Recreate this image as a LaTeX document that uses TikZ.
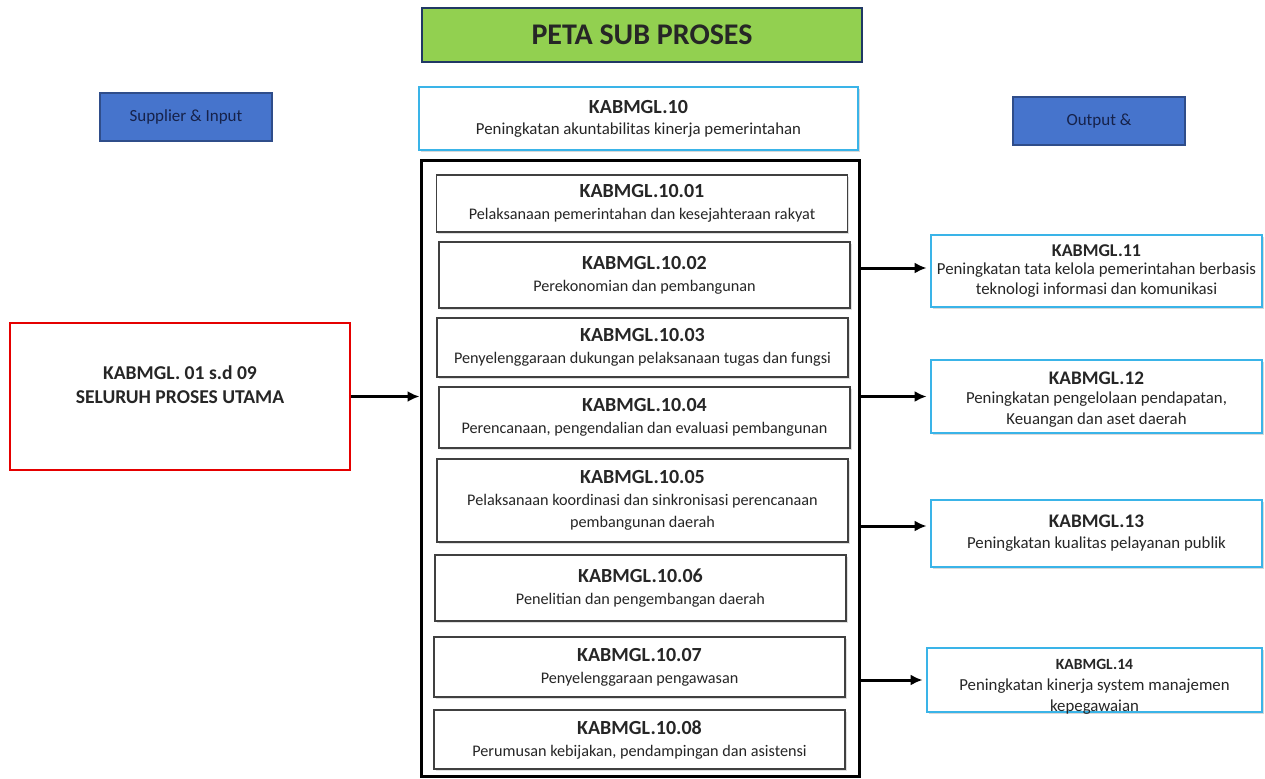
\documentclass[tikz,border=0pt]{standalone}
\usepackage{fontspec}
\setmainfont{Carlito}
\usetikzlibrary{arrows.meta,shadows}
\definecolor{titlegreen}{HTML}{92D050}
\definecolor{titleblue}{HTML}{203864}
\definecolor{skyblue}{HTML}{3AB4E8}
\definecolor{headblue}{HTML}{4674CC}
\definecolor{headborder}{HTML}{2F4D8A}
\definecolor{headtext}{HTML}{16224A}
\definecolor{txtgray}{HTML}{262626}
\newcommand{\kode}[1]{{\bfseries\fontsize{10}{12}\selectfont #1}}
\newcommand{\kodeout}[1]{{\bfseries\fontsize{9.6}{12}\selectfont #1}}
\tikzset{%
  >={Latex[width=5.5pt,length=6pt]},
           base/.style = {rectangle, draw=black, text centered, align=center,
                          inner sep=1pt, text=txtgray},
       titlebox/.style = {base, fill=titlegreen, draw=titleblue, line width=1.4pt,
                          minimum width=220pt, minimum height=27pt,
                          font=\bfseries\fontsize{15}{16}\selectfont},
        headbox/.style = {base, fill=headblue, draw=headborder, line width=1pt,
                          minimum width=86pt, minimum height=24pt, text=headtext,
                          font=\fontsize{8.5}{10}\selectfont},
         skybox/.style = {base, fill=white, draw=skyblue, line width=1.4pt,
                          font=\fontsize{8.4}{10.5}\selectfont,
                          drop shadow={shadow xshift=1pt, shadow yshift=-1pt, opacity=0.3}},
         subbox/.style = {base, fill=white, draw=black!75, line width=0.8pt,
                          minimum width=205.5pt, font=\fontsize{8.1}{11}\selectfont,
                          drop shadow={shadow xshift=0.8pt, shadow yshift=-0.8pt, opacity=0.25}},
       framebox/.style = {base, draw=black, line width=1.5pt,
                          minimum width=219pt, minimum height=308pt},
         redbox/.style = {base, draw=red!90!black, fill=white, line width=1.4pt,
                          minimum width=170pt, minimum height=73.5pt},
      arrowline/.style = {->, line width=1.5pt},
}
\begin{document}
\begin{tikzpicture}[x=0.5pt, y=-0.5pt]
\useasboundingbox (0,0) rectangle (1265,778);

  \node (title)    [titlebox]                 at (642,35)    {PETA SUB PROSES};
  \node (kab10)    [skybox, minimum width=219.5pt, minimum height=31.5pt]
                                              at (638.5,118.5)
        {\kode{KABMGL.10}\\Peningkatan akuntabilitas kinerja pemerintahan};
  \node (supplier) [headbox]                  at (186,117)   {Supplier \& Input};
  \node (output)   [headbox]                  at (1099,121)  {Output \&};

  % sub proses
  \node (frame)    [framebox]                 at (640,468)   {};
  \node (sub01)    [subbox, minimum height=28.5pt] at (642,203.5)
        {\kode{KABMGL.10.01}\\Pelaksanaan pemerintahan dan kesejahteraan rakyat};
  \node (sub02)    [subbox, minimum height=33pt]   at (644.5,275)
        {\kode{KABMGL.10.02}\\Perekonomian dan pembangunan};
  \node (sub03)    [subbox, minimum height=29.5pt] at (642.5,347.5)
        {\kode{KABMGL.10.03}\\Penyelenggaraan dukungan pelaksanaan tugas dan fungsi};
  \node (sub04)    [subbox, minimum height=30.5pt] at (644.5,417.5)
        {\kode{KABMGL.10.04}\\Perencanaan, pengendalian dan evaluasi pembangunan};
  \node (sub05)    [subbox, minimum height=41.5pt] at (642.5,500.5)
        {\kode{KABMGL.10.05}\\Pelaksanaan koordinasi dan sinkronisasi perencanaan\\pembangunan daerah};
  \node (sub06)    [subbox, minimum height=33pt]   at (640.5,588)
        {\kode{KABMGL.10.06}\\Penelitian dan pengembangan daerah};
  \node (sub07)    [subbox, minimum height=30pt]   at (639.5,667)
        {\kode{KABMGL.10.07}\\Penyelenggaraan pengawasan};
  \node (sub08)    [subbox, minimum height=29.5pt] at (639.5,739.5)
        {\kode{KABMGL.10.08}\\Perumusan kebijakan, pendampingan dan asistensi};

  % input
  \node (seluruh)     [redbox]                  at (180,396.5) {};
  \node (seluruhText) [align=center, text=txtgray, font=\bfseries\fontsize{9.8}{12}\selectfont]
                      at ([yshift=6pt]seluruh.center) {KABMGL. 01 s.d 09\\SELURUH PROSES UTAMA};

  % output
  \node (out11) [skybox, minimum width=165.5pt, minimum height=36pt,
                 font=\fontsize{8.4}{10}\selectfont]                   at (1096.5,271)
        {{\bfseries\fontsize{9}{12}\selectfont KABMGL.11}\\[-1pt]Peningkatan tata kelola pemerintahan berbasis\\teknologi informasi dan komunikasi};
  \node (out12) [skybox, minimum width=165.5pt, minimum height=36.5pt] at (1096.5,396.5) {};
  \node (out12Text) [align=center, text=txtgray, font=\fontsize{8.4}{10.5}\selectfont]
                at ([yshift=-1.5pt]out12.center)
        {\kodeout{KABMGL.12}\\[-1pt]Peningkatan pengelolaan pendapatan,\\Keuangan dan aset daerah};
  \node (out13) [skybox, minimum width=165.5pt, minimum height=33.5pt] at (1096.5,533.5)
        {\kodeout{KABMGL.13}\\Peningkatan kualitas pelayanan publik};
  \node (out14) [skybox, minimum width=167.5pt, minimum height=32pt]   at (1094.5,680) {};
  \node (out14Text) [align=center, text=txtgray, font=\fontsize{8.4}{10.5}\selectfont]
                at ([yshift=-3.5pt]out14.center)
        {{\bfseries\fontsize{7.8}{11}\selectfont KABMGL.14}\\Peningkatan kinerja system manajemen\\kepegawaian};

  \draw[arrowline] (seluruh.east) -- (frame.west |- seluruh.east);
  \draw[arrowline] (frame.east |- out11.west) ++(0,-3) -- ([yshift=1.5pt, xshift=-1.5pt]out11.west);
  \draw[arrowline] (frame.east |- out12.west) -- ([xshift=-1.5pt]out12.west);
  \draw[arrowline] (frame.east |- out13.west) ++(0,-7.5) -- ([yshift=3.75pt, xshift=-1.5pt]out13.west);
  \draw[arrowline] (frame.east |- out14.west) -- ([xshift=-1.5pt]out14.west);
\end{tikzpicture}
\end{document}
